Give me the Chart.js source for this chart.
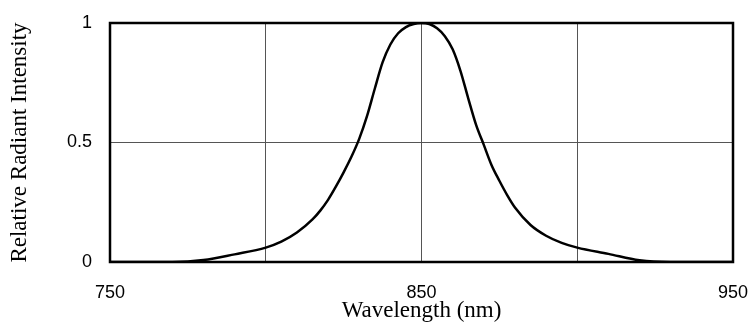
<!DOCTYPE html>
<html>
<head>
<meta charset="utf-8">
<script src="https://cdn.jsdelivr.net/npm/chart.js@4/dist/chart.umd.min.js"></script>
<style>
    html, body { margin: 0; padding: 0; background: #fff; }
    #wrap { width: 751px; height: 329px; }
</style>
</head>
<body>
<div id="wrap"><canvas id="spectrumChart" width="751" height="329"></canvas></div>
<script>
// Spectrum data
const wavelengths = [750, 770, 780, 790, 800, 805, 810, 815, 817.5, 820, 822.5, 825, 827.5, 830, 832.5,
    835, 837.5, 840, 842.5, 845, 847.5, 850, 852.5, 855, 857.5, 860, 862.5, 865, 867.5, 870, 872.5,
    875, 877.5, 880, 885, 890, 895, 900, 910, 920, 930, 950];
const intensity = [0, 0, 0.008, 0.032, 0.06, 0.085, 0.123, 0.178, 0.215, 0.26, 0.315, 0.375, 0.44, 0.515, 0.61,
    0.725, 0.835, 0.91, 0.957, 0.983, 0.996, 1.0, 0.996, 0.978, 0.945, 0.89, 0.8, 0.685, 0.575, 0.49, 0.405,
    0.34, 0.28, 0.228, 0.155, 0.11, 0.08, 0.06, 0.034, 0.007, 0, 0];
const xTickLabels = [750, 850, 950];
const yTickLabels = { 0: '0', 0.5: '0.5', 1: '1' };

const points = wavelengths.map(function(w, i) {
    return { x: w, y: intensity[i] };
});

// Draw the thick frame round the plot area
const frameBox = {
    id: 'frameBox',
    afterDatasetsDraw: function(chart) {
        const a = chart.chartArea;
        const ctx = chart.ctx;
        ctx.save();
        ctx.strokeStyle = '#000';
        ctx.lineWidth = 2.5;
        ctx.strokeRect(a.left, a.top, a.right - a.left, a.bottom - a.top);
        ctx.restore();
    }
};

new Chart(document.getElementById('spectrumChart'), {
    type: 'scatter',
    data: {
        datasets: [{
            data: points,
            showLine: true,
            borderColor: '#000',
            borderWidth: 2.5,
            pointRadius: 0,
            cubicInterpolationMode: 'monotone',
            fill: false
        }]
    },
    options: {
        responsive: false,
        animation: false,
        layout: { padding: { top: 23, right: 18, bottom: 4, left: 6 } },
        plugins: { legend: { display: false }, tooltip: { enabled: false } },
        scales: {
            x: {
                type: 'linear',
                min: 750,
                max: 950,
                afterFit: function(scale) {
                    scale.height = 63;
                    scale.paddingLeft = 0;
                    scale.paddingRight = 0;
                },
                grid: { color: '#555', lineWidth: 1, drawTicks: false },
                border: { display: false },
                ticks: {
                    stepSize: 50,
                    padding: 20,
                    maxRotation: 0,
                    color: '#000',
                    font: { family: 'Liberation Sans', size: 18 },
                    callback: function(v) { return xTickLabels.includes(v) ? String(v) : ''; }
                },
                title: {
                    display: true,
                    text: 'Wavelength (nm)',
                    color: '#000',
                    padding: 0,
                    font: { family: 'Liberation Serif', size: 23 }
                }
            },
            y: {
                min: 0,
                max: 1,
                afterFit: function(scale) {
                    scale.width = 104;
                    scale.paddingTop = 0;
                    scale.paddingBottom = 0;
                },
                grid: { color: '#555', lineWidth: 1, drawTicks: false },
                border: { display: false },
                ticks: {
                    stepSize: 0.5,
                    padding: 18,
                    color: '#000',
                    font: { family: 'Liberation Sans', size: 18 },
                    callback: function(v) { return yTickLabels[v] !== undefined ? yTickLabels[v] : ''; }
                },
                title: {
                    display: true,
                    text: 'Relative Radiant Intensity',
                    color: '#000',
                    padding: 0,
                    font: { family: 'Liberation Serif', size: 23 }
                }
            }
        }
    },
    plugins: [frameBox]
});
</script>
</body>
</html>
